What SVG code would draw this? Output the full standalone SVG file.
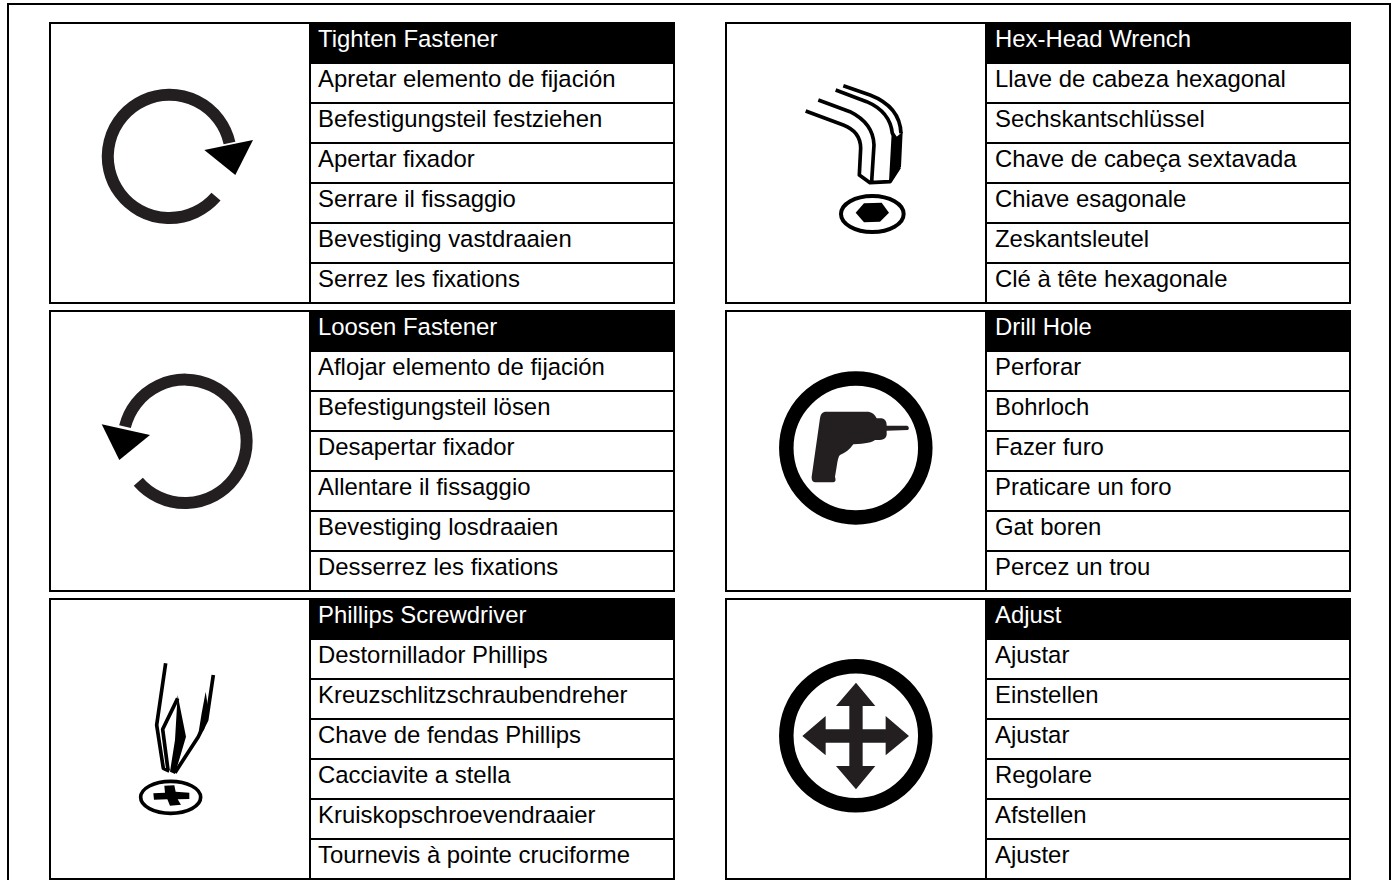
<svg xmlns="http://www.w3.org/2000/svg" width="1392" height="880" viewBox="0 0 1392 880">
<style>
.b{fill:#fff;stroke:#000;stroke-width:2}
.h{fill:#000}
.r{stroke:#000;stroke-width:2;fill:none}
text{font-family:"Liberation Sans",Arial,sans-serif;font-size:23.9px;fill:#000}
text.w{fill:#fff}
.d{fill:#231f20}
.a{fill:none;stroke:#231f20;stroke-width:12}
.c{fill:none;stroke:#000;stroke-width:14.5}
.k{fill:#000}
</style>
<defs>
<g id="rows">
<rect class="b" x="0" y="0" width="624" height="280"/>
<rect class="h" x="260" y="-1" width="365" height="42"/>
<path class="r" d="M260 0V280M260 80H624M260 120H624M260 160H624M260 200H624M260 240H624"/>
</g>
</defs>
<rect id="frame" x="8" y="4" width="1382" height="880" fill="#fff" stroke="#000" stroke-width="2"/>

<g id="tighten">
<use href="#rows" x="50" y="23"/>
<text class="w" x="318" y="46.5">Tighten Fastener</text>
<text x="318" y="86.5">Apretar elemento de fijación</text>
<text x="318" y="126.5">Befestigungsteil festziehen</text>
<text x="318" y="166.5">Apertar fixador</text>
<text x="318" y="206.5">Serrare il fissaggio</text>
<text x="318" y="246.5">Bevestiging vastdraaien</text>
<text x="318" y="286.5">Serrez les fixations</text>
<path class="a" d="M229.5 143A61.6 61.6 0 1 0 216 196.7"/>
<polygon class="k" points="204.3,150 253,140 235.3,175"/>
</g>

<g id="hexwrench">
<use href="#rows" x="726" y="23"/>
<text class="w" x="995" y="46.5">Hex-Head Wrench</text>
<text x="995" y="86.5">Llave de cabeza hexagonal</text>
<text x="995" y="126.5">Sechskantschlüssel</text>
<text x="995" y="166.5">Chave de cabeça sextavada</text>
<text x="995" y="206.5">Chiave esagonale</text>
<text x="995" y="246.5">Zeskantsleutel</text>
<text x="995" y="286.5">Clé à tête hexagonale</text>
<g transform="translate(790 70) scale(.3333)">
<path fill="none" stroke="#000" stroke-width="11" stroke-linejoin="round" d="M47 123L160 165Q212 185 212 235L208 315L240 338L300 335L328 292M85 90L180 125Q250 160 252 225L245 335M137 60L230 95Q300 125 307 190L320 210M160 47L240 75Q330 110 333 190"/>
<path class="k" d="M320 200L338 185L333 290L303 337L297 335L305 190Z"/>
<ellipse cx="247" cy="432" rx="94" ry="54" fill="none" stroke="#000" stroke-width="12"/>
<polygon class="k" points="197,428 222,400 275,398 297,428 270,455 222,457"/>
</g>
</g>

<g id="loosen">
<use href="#rows" x="50" y="311"/>
<text class="w" x="318" y="334.5">Loosen Fastener</text>
<text x="318" y="374.5">Aflojar elemento de fijación</text>
<text x="318" y="414.5">Befestigungsteil lösen</text>
<text x="318" y="454.5">Desapertar fixador</text>
<text x="318" y="494.5">Allentare il fissaggio</text>
<text x="318" y="534.5">Bevestiging losdraaien</text>
<text x="318" y="574.5">Desserrez les fixations</text>
<path class="a" d="M125 426.7A61.7 61.7 0 1 1 138.3 481.7"/>
<polygon class="k" points="101.7,424.3 150,435 119.3,460"/>
</g>

<g id="drill">
<use href="#rows" x="726" y="311"/>
<text class="w" x="995" y="334.5">Drill Hole</text>
<text x="995" y="374.5">Perforar</text>
<text x="995" y="414.5">Bohrloch</text>
<text x="995" y="454.5">Fazer furo</text>
<text x="995" y="494.5">Praticare un foro</text>
<text x="995" y="534.5">Gat boren</text>
<text x="995" y="574.5">Percez un trou</text>
<circle class="c" cx="855.8" cy="448" r="69.5"/>
<path class="d" transform="translate(770 360) scale(.3333)" d="M165 155L295 155Q312 157 320 175L335 175Q350 178 350 195L350 197L412 197Q420 203 414 210L350 212L350 225Q348 238 330 240L315 240Q305 250 250 253Q235 275 210 285Q204 290 200 320L195 350Q200 365 190 367L135 367Q124 365 125 350L150 175Q152 157 165 155Z"/>
</g>

<g id="phillips">
<use href="#rows" x="50" y="599"/>
<text class="w" x="318" y="622.5">Phillips Screwdriver</text>
<text x="318" y="662.5">Destornillador Phillips</text>
<text x="318" y="702.5">Kreuzschlitzschraubendreher</text>
<text x="318" y="742.5">Chave de fendas Phillips</text>
<text x="318" y="782.5">Cacciavite a stella</text>
<text x="318" y="822.5">Kruiskopschroevendraaier</text>
<text x="318" y="862.5">Tournevis à pointe cruciforme</text>
<g transform="translate(110 640) scale(.3333)">
<path fill="none" stroke="#000" stroke-width="11" stroke-linejoin="round" d="M167 70L140 255L160 385L178 393M203 175L158 268L174 390M310 105L290 240L265 290L195 398"/>
<polygon class="k" points="203,165 228,290 195,402 180,395 195,300"/>
<polygon class="k" points="287,155 296,215 282,270 265,282 275,220"/>
<ellipse cx="182" cy="472" rx="90" ry="48" fill="none" stroke="#000" stroke-width="11"/>
<polygon class="k" points="163,437 193,436 197,455 238,458 238,477 203,478 213,494 180,497 172,478 132,479 130,460 165,458"/>
</g>
</g>

<g id="adjust">
<use href="#rows" x="726" y="599"/>
<text class="w" x="995" y="622.5">Adjust</text>
<text x="995" y="662.5">Ajustar</text>
<text x="995" y="702.5">Einstellen</text>
<text x="995" y="742.5">Ajustar</text>
<text x="995" y="782.5">Regolare</text>
<text x="995" y="822.5">Afstellen</text>
<text x="995" y="862.5">Ajuster</text>
<circle class="c" cx="855.8" cy="735.8" r="69.5"/>
<path class="d" transform="translate(770 650) scale(.3333)" d="M258 98L316 168H278V238H347V198L417 258L347 316V278H278V348H316L258 418L198 348H238V278H167V316L97 258L167 198V238H238V168H198Z"/>
</g>
</svg>
